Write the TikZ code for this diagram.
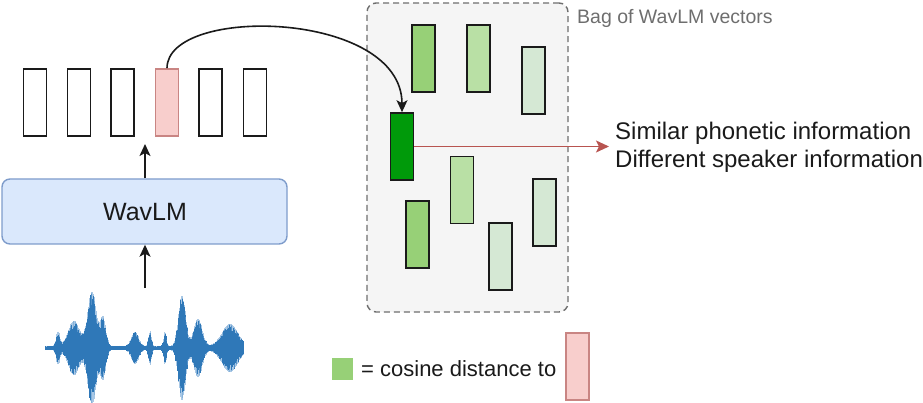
\documentclass[tikz,border=0pt]{standalone}
\usepackage{fontspec}
\setmainfont{Liberation Sans}
\usetikzlibrary{arrows.meta}

\definecolor{pinkfill}{HTML}{F8CECC}
\definecolor{pinkline}{HTML}{C98583}
\definecolor{redarrow}{HTML}{B85450}
\definecolor{bluefill}{HTML}{DAE8FC}
\definecolor{blueline}{HTML}{7E9CCB}
\definecolor{bagfill}{HTML}{F5F5F5}
\definecolor{bagline}{HTML}{6E6E6E}
\definecolor{gdark}{HTML}{009A0A}
\definecolor{gmid}{HTML}{97D077}
\definecolor{glight}{HTML}{B9E0A5}
\definecolor{gpale}{HTML}{D5E8D4}
\definecolor{wave}{HTML}{2F78B8}
\definecolor{wavehalo}{HTML}{6FA3D3}
\definecolor{ink}{HTML}{1A1A1A}

\tikzset{
  vec/.style={draw=ink, line width=1.6pt, minimum width=23pt, minimum height=67pt, inner sep=0pt},
  featbox/.style={vec, fill=white},
  pinkbox/.style={vec, draw=pinkline, fill=pinkfill},
  greenbox/.style={vec, fill=#1},
  arr/.style={-{Stealth[length=12pt,width=11pt,inset=3pt]}, line width=1.6pt, draw=ink},
  redarr/.style={-{Stealth[length=13pt,width=12pt,inset=3pt]}, line width=1.4pt, draw=redarrow},
  bigtxt/.style={font=\fontsize{24}{28}\selectfont, text=ink, inner sep=0pt},
  declare function={g(\t,\c,\w)=exp(-min(((\t-\c)/\w)^2,9));}
}

\begin{document}
\begin{tikzpicture}[x=1pt,y=-1pt]
\useasboundingbox (0,0) rectangle (923,403);

% bag of vectors
\node[draw=bagline, dashed, dash pattern=on 6pt off 4pt, line width=1.4pt, fill=bagfill,
      rounded corners=9pt, minimum width=201pt, minimum height=309pt, inner sep=0pt]
      (bag) at (467.5,157.5) {};
\node[font=\fontsize{19.5}{22}\selectfont, text=bagline, anchor=west, inner sep=0pt]
      (bagtitle) at (577,18) {Bag of WavLM vectors};

% frame-level feature vectors
\node[featbox] (f1) at (35,102.5) {};
\node[featbox] (f2) at (79,102.5) {};
\node[featbox] (f3) at (122.5,102.5) {};
\node[pinkbox] (f4) at (167,102.5) {};
\node[featbox] (f5) at (210.5,102.5) {};
\node[featbox] (f6) at (255,102.5) {};

% encoder
\node[draw=blueline, fill=bluefill, line width=1.4pt, rounded corners=8pt,
      minimum width=285pt, minimum height=65pt, inner sep=0pt] (wavlm) at (144.5,211.5) {};
\node[bigtxt, font=\fontsize{25}{28}\selectfont] (wavlmtxt) at (145,212) {WavLM};

\coordinate (featin) at (145,144);
\coordinate (wavetop) at (145,288);
\draw[arr] (wavlm.north -| featin) -- (featin);
\draw[arr] (wavetop) -- (wavlm.south -| wavetop);

% vectors in the bag
\node[greenbox=gmid]   (b1) at (423.5,58.5) {};
\node[greenbox=glight] (b2) at (478.5,58.5) {};
\node[greenbox=gpale]  (b3) at (533.5,80.5) {};
\node[greenbox=gdark]  (b4) at (402,146.5) {};
\node[greenbox=glight] (b5) at (462,190) {};
\node[greenbox=gmid]   (b6) at (417.5,234.5) {};
\node[greenbox=gpale]  (b7) at (500.5,256.5) {};
\node[greenbox=gpale]  (b8) at (544.5,212.5) {};

% pink query vector goes into the bag
\draw[arr] (f4.north) .. controls (167,5) and (402,10) .. (b4.north);

% nearest neighbour
\coordinate (tip) at (609,146.5);
\draw[redarr] (b4.east) -- (tip);
\node[bigtxt, anchor=west] (l1) at (615,133.5) {Similar phonetic information};
\node[bigtxt, anchor=west] (l2) at (615,161.5) {Different speaker information};

% legend
\node[fill=gmid, minimum width=21pt, minimum height=22pt, inner sep=0pt] (leg) at (342.5,369) {};
\node[font=\fontsize{22}{26}\selectfont, text=ink, anchor=west, inner sep=0pt] (legtxt) at (361,369) {= cosine distance to};
\node[pinkbox] (legpink) at (577.5,366.5) {};

% speech waveform: a soft outer envelope, then the dense signal on top
\begin{scope}
\pgfmathsetseed{11}
\foreach \i in {0,...,283}{
  \pgfmathsetmacro\xx{45+0.7*\i}
  \pgfmathsetmacro\env{2+14*g(\xx,58,2.5)+25*g(\xx,74,8)+54*g(\xx,92,6)+28*g(\xx,103,4)
     +14*g(\xx,135,5)+15*g(\xx,150,2)+14*g(\xx,165,2)+50*g(\xx,182,5)+27*g(\xx,198,6)+22*g(\xx,230,11)}
  \pgfmathsetmacro\up{\env*(0.72+0.28*rnd)}
  \pgfmathsetmacro\dn{\env*(0.72+0.28*rnd)}
  \draw[wavehalo, line width=0.9pt, opacity=0.6] (\xx,348-\env) -- (\xx,348+\env);
  \draw[wave, line width=0.9pt] (\xx,348-\up) -- (\xx,348+\dn);
}
\end{scope}
\end{tikzpicture}
\end{document}
